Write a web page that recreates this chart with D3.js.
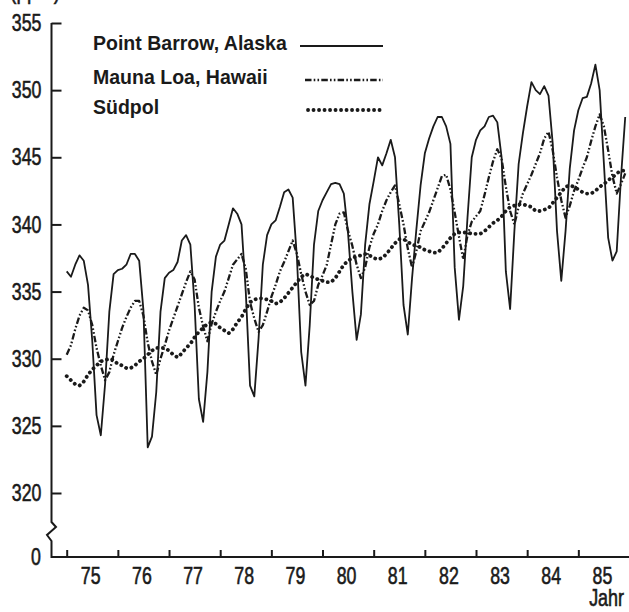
<!DOCTYPE html>
<html lang="de">
<head>
<meta charset="utf-8">
<style>
  body { margin: 0; background: #fff; }
  svg text { font-family: "Liberation Sans", Arial, sans-serif; fill: #1a1a1a; }
  .num { font-size: 24px; stroke: #1a1a1a; stroke-width: 0.6px; }
  .lab { font-size: 21px; font-weight: bold; }
  .curve { fill: none; stroke: #1a1a1a; }
</style>
</head>
<body>
<svg width="629" height="612"></svg>
<script src="https://cdn.jsdelivr.net/npm/d3@7"></script>
<script>
// monthly values Jan 1975 .. Dec 1985 (ppm)
var seriesNames = ["Point Barrow, Alaska", "Mauna Loa, Hawaii", "Südpol"];
var yearLabels = ["75", "76", "77", "78", "79", "80", "81", "82", "83", "84", "85"];
var yTicks = [355, 350, 345, 340, 335, 330, 325, 320];

var pointBarrow = [
  336.5, 336.1, 337.0, 337.7, 337.3, 335.5, 331.3, 325.8, 324.3, 328.1, 333.5, 336.3,
  336.6, 336.7, 337.0, 337.8, 337.8, 337.3, 333.6, 323.4, 324.2, 327.5, 333.5, 336.0,
  336.4, 336.6, 337.2, 338.8, 339.2, 338.5, 334.0, 327.0, 325.3, 329.0, 335.0, 337.6,
  338.5, 338.8, 340.0, 341.2, 340.8, 340.0, 335.0, 328.0, 327.2, 331.5, 337.0, 339.2,
  340.0, 340.3, 341.3, 342.4, 342.6, 342.0, 337.5, 330.5, 328.0, 332.5, 338.5, 341.0,
  341.8, 342.4, 343.0, 343.1, 343.0, 342.3, 339.3, 335.0, 331.4, 333.3, 338.5, 341.5,
  343.2, 345.0, 344.4, 345.3, 346.3, 345.0, 340.0, 334.0, 331.8, 336.0, 339.6, 342.9,
  345.3, 346.4, 347.3, 348.0, 348.0, 347.3, 346.0, 336.8, 332.9, 335.4, 340.5, 345.0,
  346.3, 347.0, 347.3, 348.0, 348.1, 347.6, 345.0, 336.5, 333.7, 339.5, 344.5, 346.8,
  348.8, 350.6, 350.0, 349.7, 350.3, 349.6, 346.0, 339.5, 335.8, 339.5, 344.2, 347.0,
  348.5, 349.4, 349.5, 350.5, 351.9, 350.0, 344.5, 339.0, 337.3, 338.0, 343.5, 348.0
];

var maunaLoa = [
  330.3, 331.0, 332.2, 333.2, 333.8, 333.6, 332.5, 330.8, 329.5, 328.4, 329.0, 330.3,
  331.3, 332.3, 333.1, 333.8, 334.3, 334.3, 333.2, 331.2, 329.8, 328.8, 330.0, 331.0,
  332.1, 333.0, 333.9, 334.8, 335.7, 336.5, 335.9, 333.8, 332.4, 331.3, 332.6, 333.5,
  334.3, 335.0, 336.0, 337.0, 337.4, 337.8, 336.7, 334.2, 333.0, 332.0, 332.5, 333.5,
  334.6, 335.5, 336.5, 337.2, 338.0, 338.8, 337.8, 336.3, 335.0, 334.0, 334.3, 335.5,
  336.2, 337.0, 338.5, 340.0, 340.8, 340.9, 339.5, 338.4, 337.0, 336.0, 336.8, 338.3,
  339.3, 340.0, 341.0, 341.8, 342.4, 342.9, 341.5, 340.0, 338.2, 336.8, 338.0, 339.5,
  340.2, 340.9, 341.8, 342.7, 343.6, 343.7, 342.6, 340.9, 339.1, 337.4, 339.2, 340.2,
  340.6, 341.0, 342.2, 343.5, 344.7, 345.6, 344.9, 342.8, 341.0, 340.0, 341.3, 342.3,
  343.0, 343.7, 344.5, 345.3, 346.4, 346.9, 345.5, 343.5, 341.8, 340.5, 341.4, 342.5,
  343.3, 344.2, 345.0, 346.2, 347.3, 348.2, 347.3, 345.5, 343.6, 342.3, 343.0, 343.8
];

var suedpol = [
  328.7, 328.4, 328.1, 328.0, 328.3, 328.8, 329.2, 329.5, 329.8, 329.9, 330.0, 329.9,
  329.6, 329.5, 329.3, 329.3, 329.5, 329.8, 330.0, 330.3, 330.6, 330.8, 330.8, 330.8,
  330.6, 330.3, 330.1, 330.4, 330.8, 331.1, 331.6, 332.0, 332.3, 332.6, 332.7, 332.6,
  332.3, 332.1, 331.9, 332.2, 332.7, 333.1, 333.7, 334.2, 334.4, 334.5, 334.5, 334.4,
  334.3, 334.1, 334.2, 334.5, 334.9, 335.3, 335.7, 336.1, 336.3, 336.2, 336.0, 335.9,
  335.8, 335.7, 335.7, 336.0, 336.5, 337.0, 337.3, 337.5, 337.6, 337.7, 337.8, 337.7,
  337.5, 337.4, 337.5, 337.8, 338.2, 338.6, 338.9, 338.9, 338.7, 338.5, 338.4, 338.3,
  338.1, 338.0, 337.9, 337.9, 338.2, 338.6, 339.0, 339.3, 339.4, 339.4, 339.4, 339.3,
  339.3, 339.3, 339.5, 339.8, 340.1, 340.3, 340.6, 341.0, 341.3, 341.4, 341.5, 341.5,
  341.4, 341.3, 341.0, 341.0, 341.1, 341.2, 341.6, 342.0, 342.4, 342.8, 342.9, 342.8,
  342.6, 342.4, 342.3, 342.3, 342.5, 342.8, 343.0, 343.3, 343.5, 343.8, 344.0, 344.0
];

var svg = d3.select("svg"),
    axisX = 51.5,
    baseY = 557;

var x = d3.scaleLinear().domain([1975, 1986]).range([66.7, 629.5]);
var y = d3.scaleLinear().domain([320, 355]).range([493, 23]);

var line = d3.line()
    .x(function (d, i) { return x(1975 + i / 12); })
    .y(function (d) { return y(d); });

// squeeze glyphs, like the condensed type of the print
function narrow(sel, k) {
    sel.each(function () {
        var t = d3.select(this);
        var tx = +t.attr("x") || 0, ty = +t.attr("y") || 0;
        t.attr("x", 0).attr("y", 0)
         .attr("transform", "translate(" + tx + "," + ty + ") scale(" + k + ",1)");
    });
}

// axis lines with the break between 320 and 0
svg.append("path")
    .attr("d", "M" + axisX + "," + y(355) + " V522 L56,527 L47,535 L" + axisX + ",541 V" + baseY + " H629")
    .attr("fill", "none")
    .attr("stroke", "#1a1a1a")
    .attr("stroke-width", 2);

var gy = svg.append("g")
    .attr("transform", "translate(" + axisX + ",0)")
    .call(d3.axisLeft(y).tickValues(yTicks).tickSizeInner(-10).tickSizeOuter(0).tickPadding(10));
gy.select(".domain").remove();
gy.selectAll("line").attr("stroke", "#1a1a1a").attr("stroke-width", 2);
gy.selectAll("text").attr("font-size", null).attr("font-family", null).attr("class", "num");
narrow(gy.selectAll("text"), 0.74);

svg.append("text")
    .attr("class", "num")
    .attr("text-anchor", "end")
    .attr("transform", "translate(41," + baseY + ") scale(0.74,1)")
    .attr("dy", "0.32em")
    .text("0");

var gx = svg.append("g")
    .attr("transform", "translate(0," + baseY + ")")
    .call(d3.axisBottom(x).tickValues(d3.range(1975, 1986)).tickSizeInner(-7).tickSizeOuter(0).tickFormat(""));
gx.select(".domain").remove();
gx.selectAll("line").attr("stroke", "#1a1a1a").attr("stroke-width", 2);

var gl = svg.append("g")
    .attr("transform", "translate(0," + baseY + ")")
    .call(d3.axisBottom(x)
        .tickValues(yearLabels.map(function (d, i) { return 1975.46 + i; }))
        .tickSize(0).tickPadding(10)
        .tickFormat(function (d, i) { return yearLabels[i]; }));
gl.select(".domain").remove();
gl.selectAll("text").attr("font-size", null).attr("font-family", null).attr("class", "num");
narrow(gl.selectAll("text"), 0.74);

svg.append("text")
    .attr("class", "num")
    .attr("text-anchor", "end")
    .attr("transform", "translate(624,606) scale(0.78,1)")
    .style("font-size", "23px")
    .text("Jahr");

svg.append("text")
    .attr("class", "num")
    .attr("transform", "translate(10,-1) scale(0.8,1)")
    .text("(ppm)");

// curves
var styles = [
    { data: pointBarrow, width: 1.8, dash: null, cap: "butt" },
    { data: maunaLoa, width: 2.3, dash: "6.5,2.2,1.6,2.2,1.6,2.2", cap: "butt" },
    { data: suedpol, width: 3.8, dash: "0.1,5.4", cap: "round" }
];

styles.forEach(function (s) {
    svg.append("path")
        .datum(s.data)
        .attr("class", "curve")
        .attr("d", line)
        .attr("stroke-width", s.width)
        .attr("stroke-dasharray", s.dash)
        .attr("stroke-linecap", s.cap)
        .attr("stroke-linejoin", "round");
});

// legend
var legendRows = [50, 84, 114];
var legendLineStart = [300, 305, 308];
seriesNames.forEach(function (name, i) {
    svg.append("text")
        .attr("class", "lab")
        .attr("transform", "translate(93," + legendRows[i] + ") scale(0.93,1)")
        .text(name);
    svg.append("line")
        .attr("x1", legendLineStart[i]).attr("x2", 383)
        .attr("y1", legendRows[i] - 4).attr("y2", legendRows[i] - 4)
        .attr("stroke", "#1a1a1a")
        .attr("stroke-width", styles[i].width)
        .attr("stroke-dasharray", styles[i].dash)
        .attr("stroke-linecap", styles[i].cap);
});
</script>
</body>
</html>
